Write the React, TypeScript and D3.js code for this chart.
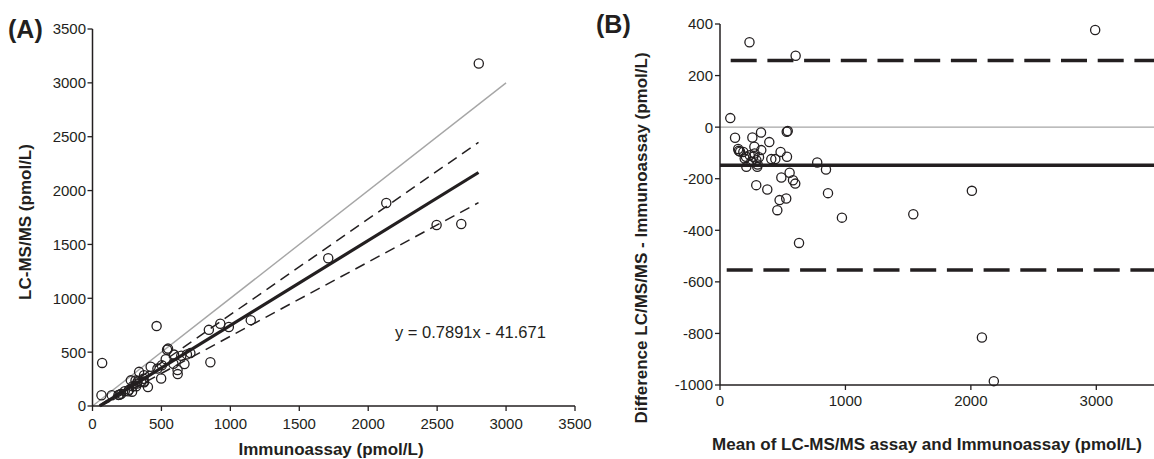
import React from "react";
import * as d3 from "d3";

// Panel A: method comparison (Immunoassay vs LC-MS/MS), pmol/L
const immunoassay = [70, 465, 65, 140, 188, 196, 208, 234, 265, 258, 287, 278, 338, 312, 374, 327, 292, 370, 317, 374, 373, 422, 471, 503, 531, 592, 541, 548, 844, 927, 402, 498, 587, 644, 685, 710, 989, 617, 667, 618, 1148, 855, 2802, 2131, 1710, 2496, 2675, 323, 354];
const lcmsms = [400, 742, 100, 100, 103, 104, 113, 138, 150, 136, 133, 238, 317, 236, 285, 225, 183, 253, 183, 220, 228, 364, 347, 379, 435, 477, 523, 533, 707, 763, 177, 256, 392, 467, 479, 491, 733, 334, 390, 296, 797, 406, 3180, 1884, 1372, 1680, 1690, 208, 226];

// Panel B: Bland-Altman (mean vs difference), pmol/L
const meanValues = [235, 603, 82, 120, 145, 150, 160, 186, 207, 197, 210, 258, 327, 274, 329, 276, 237, 311, 250, 297, 300, 393, 409, 441, 483, 534, 532, 540, 775, 845, 289, 377, 489, 555, 582, 600, 861, 475, 528, 457, 972, 630, 2991, 2008, 1541, 2088, 2183, 265, 290];
const diffValues = [329, 277, 35, -41, -85, -92, -95, -96, -115, -122, -154, -40, -21, -76, -89, -102, -109, -117, -134, -154, -145, -58, -124, -124, -96, -115, -18, -15, -137, -164, -225, -242, -195, -177, -206, -219, -256, -283, -277, -322, -351, -449, 377, -247, -338, -816, -985, -115, -128];

// Lines
const identityLine = [[0, 0], [3000, 3000]];
const regSlope = 0.7891;
const regIntercept = -41.671;
const regXRange = [53, 2800];
const upperBandSlope = 0.889;
const lowerBandSlope = 0.689;
const bandXRangeUpper = [47, 2800];
const bandXRangeLower = [61, 2800];
const meanDiff = -148;
const upperLoA = 258;
const lowerLoA = -554;

// Ticks
const ticksA = [0, 500, 1000, 1500, 2000, 2500, 3000, 3500];
const ticksBx = [0, 1000, 2000, 3000];
const ticksBy = [-1000, -800, -600, -400, -200, 0, 200, 400];

const FONT = "'Liberation Sans', Arial, Helvetica, sans-serif";
const INK = "#231f20";

export default function App() {
  const xA = d3.scaleLinear().domain([0, 3500]).range([92.5, 575]);
  const yA = d3.scaleLinear().domain([0, 3500]).range([406, 29]);
  const xB = d3.scaleLinear().domain([0, 3460]).range([720, 1154]);
  const yB = d3.scaleLinear().domain([-1000, 400]).range([385, 24]);

  const lineA = d3.line<number[]>().x((d) => xA(d[0])).y((d) => yA(d[1]));
  const regPts = regXRange.map((x) => [x, regSlope * x + regIntercept]);
  const upPts = bandXRangeUpper.map((x) => [x, upperBandSlope * x + regIntercept]);
  const loPts = bandXRangeLower.map((x) => [x, lowerBandSlope * x + regIntercept]);
  const [bx0, bx1] = xB.range();

  return (
    <svg width={1154} height={459} style={{ position: "absolute", left: 0, top: 0, background: "#fff" }} fontFamily={FONT}>
      <rect width={1154} height={459} fill="#fff" />
      {/* ===== Panel A ===== */}
      <text x={8} y={38} fontSize={25} fontWeight="bold" fill={INK}>(A)</text>
      <path d={lineA(identityLine) || ""} stroke="#a6a6a6" strokeWidth={1.4} fill="none" />
      <path d={lineA(upPts) || ""} stroke={INK} strokeWidth={1.5} strokeDasharray="10.5 6.5" fill="none" />
      <path d={lineA(loPts) || ""} stroke={INK} strokeWidth={1.5} strokeDasharray="10.5 6.5" fill="none" />
      <path d={lineA(regPts) || ""} stroke={INK} strokeWidth={3.2} fill="none" />
      {immunoassay.map((v, i) => (
        <circle key={"a" + i} cx={xA(v)} cy={yA(lcmsms[i])} r={4.6} fill="none" stroke={INK} strokeWidth={1.3} />
      ))}
      <line x1={xA(0)} x2={xA(3500)} y1={yA(0)} y2={yA(0)} stroke={INK} strokeWidth={1.5} />
      <line x1={xA(0)} x2={xA(0)} y1={yA(0)} y2={yA(3500)} stroke={INK} strokeWidth={1.5} />
      {ticksA.map((t) => (
        <g key={"ax" + t}>
          <line x1={xA(t)} x2={xA(t)} y1={yA(0)} y2={yA(0) + 5} stroke={INK} strokeWidth={1.3} />
          <text x={xA(t)} y={429} fontSize={15} textAnchor="middle" fill={INK}>{t}</text>
        </g>
      ))}
      {ticksA.map((t) => (
        <g key={"ay" + t}>
          <line x1={xA(0) - 5} x2={xA(0)} y1={yA(t)} y2={yA(t)} stroke={INK} strokeWidth={1.3} />
          <text x={86} y={yA(t)} dy="0.36em" fontSize={15} textAnchor="end" fill={INK}>{t}</text>
        </g>
      ))}
      <text x={395} y={338} fontSize={16.5} fill={INK}>y = 0.7891x - 41.671</text>
      <text x={331} y={455} fontSize={17} fontWeight="bold" textAnchor="middle" fill={INK}>Immunoassay (pmol/L)</text>
      <text transform="translate(31,222) rotate(-90)" fontSize={17} fontWeight="bold" textAnchor="middle" fill={INK}>LC-MS/MS (pmol/L)</text>

      {/* ===== Panel B ===== */}
      <text x={596} y={33} fontSize={25} fontWeight="bold" fill={INK}>(B)</text>
      <line x1={bx0} x2={bx1} y1={yB(0)} y2={yB(0)} stroke="#a6a6a6" strokeWidth={1.4} />
      <line x1={bx0} x2={bx1} y1={yB(upperLoA)} y2={yB(upperLoA)} stroke={INK} strokeWidth={3.5} strokeDasharray="26 10.7" strokeDashoffset={26} />
      <line x1={bx0} x2={bx1} y1={yB(lowerLoA)} y2={yB(lowerLoA)} stroke={INK} strokeWidth={3.5} strokeDasharray="26 10.7" strokeDashoffset={30} />
      <line x1={bx0} x2={bx1} y1={yB(meanDiff)} y2={yB(meanDiff)} stroke={INK} strokeWidth={3.5} />
      {meanValues.map((v, i) => (
        <circle key={"b" + i} cx={xB(v)} cy={yB(diffValues[i])} r={4.6} fill="none" stroke={INK} strokeWidth={1.3} />
      ))}
      <line x1={bx0} x2={bx1} y1={yB(-1000)} y2={yB(-1000)} stroke={INK} strokeWidth={1.5} />
      <line x1={bx0} x2={bx0} y1={yB(-1000)} y2={yB(400)} stroke={INK} strokeWidth={1.5} />
      {ticksBx.map((t) => (
        <g key={"bx" + t}>
          <line x1={xB(t)} x2={xB(t)} y1={yB(-1000)} y2={yB(-1000) + 5} stroke={INK} strokeWidth={1.3} />
          <text x={xB(t)} y={406} fontSize={15} textAnchor="middle" fill={INK}>{t}</text>
        </g>
      ))}
      {ticksBy.map((t) => (
        <g key={"by" + t}>
          <line x1={bx0 - 5} x2={bx0} y1={yB(t)} y2={yB(t)} stroke={INK} strokeWidth={1.3} />
          <text x={713} y={yB(t)} dy="0.36em" fontSize={15} textAnchor="end" fill={INK}>{t}</text>
        </g>
      ))}
      <text x={927} y={450} fontSize={17} fontWeight="bold" textAnchor="middle" fill={INK}>Mean of LC-MS/MS assay and Immunoassay (pmol/L)</text>
      <text transform="translate(647,238) rotate(-90)" fontSize={17} fontWeight="bold" textAnchor="middle" fill={INK}>Difference LC/MS/MS - Immunoassay (pmol/L)</text>
    </svg>
  );
}
